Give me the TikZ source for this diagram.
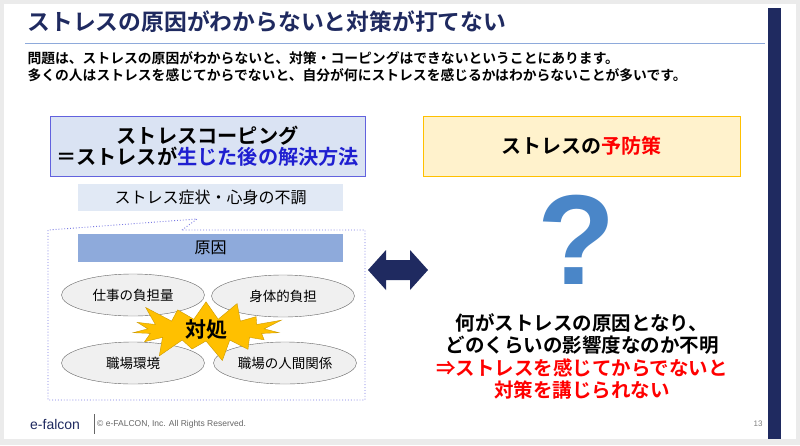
\documentclass[tikz,border=0pt]{standalone}
\usepackage{fontspec}
\setmainfont{Noto Sans CJK JP}
\newfontfamily\jpb{Noto Sans CJK JP Bold}
\newfontfamily\lat{Liberation Sans}
\usepackage{tikz}
\usetikzlibrary{positioning,shapes.geometric,shapes.symbols}
\definecolor{navy}{HTML}{1F2A60}
\definecolor{paleblue}{HTML}{DAE3F3}
\definecolor{midblue}{HTML}{8EAADB}
\definecolor{qblue}{HTML}{4A86C8}
\definecolor{gold}{HTML}{FFC000}
\definecolor{cream}{HTML}{FFF2CC}
\definecolor{deepblue}{HTML}{1F1FD0}
\begin{document}
\begin{tikzpicture}[x=1pt,y=-1pt,
	fs/.style={font=\fontsize{#1}{#1}\selectfont},
	headbox/.style = {draw=#1, line width=0.8pt, minimum height=60pt, align=center,
		inner sep=0pt},
	factor/.style = {ellipse, draw=black!60, fill=black!6, minimum width=143pt,
		minimum height=42pt, fs=13},
	]
	% slide
	\fill[black!8] (0,0) rectangle (800,445);
	\fill[white] (4,4) rectangle (796,439);
	\fill[navy] (768,8) rectangle (781,439);
	\node[anchor=west, text=navy, fs=22.8] (title) at (24,22) {\jpb ストレスの原因がわからないと対策が打てない};
	\draw[midblue, line width=0.8pt] (25,43) -- (765,43);
	\node[anchor=west, fs=13.8, align=left] (intro) at (24,67)
		{\jpb 問題は、ストレスの原因がわからないと、対策・コーピングはできないということにあります。\\[3pt]
		\jpb 多くの人はストレスを感じてからでないと、自分が何にストレスを感じるかはわからないことが多いです。};
	% left side
	\node[headbox=deepblue!70, fill=paleblue, minimum width=315pt, fs=20.2] (coping) at (207.5,146)
		{\jpb ストレスコーピング\\[1pt]\jpb ＝ストレスが\textcolor{deepblue}{生じた後の解決方法}};
	\node[fill=paleblue!80, minimum width=265pt, minimum height=27pt, fs=16] (symptom) at (210.5,197)
		{ストレス症状・心身の不調};
	\draw[deepblue!60, dotted, line width=0.9pt] (182,230) -- (197,219) -- (48,230)
		-- (48,400) -- (365,400) -- (365,230) -- cycle;
	\node[fill=midblue, minimum width=265pt, minimum height=28pt, fs=16] (cause) at (210.5,248) {原因};
	\node[factor] (work) at (133,295) {};
	\node[factor] (body) at (283,296) {};
	\node[factor] (place) at (133,363) {};
	\node[factor] (human) at (285,363) {};
	\node[starburst, starburst points=15, starburst point height=24pt, fill=gold,
		draw=gold!80!black, minimum width=165pt, minimum height=70pt, fs=20] (cope) at (206,330) {};
	\node[fs=13.5] at (work) {仕事の負担量};
	\node[fs=13.5] at (body) {身体的負担};
	\node[fs=13.5] at (place) {職場環境};
	\node[fs=13.5] at (human) {職場の人間関係};
	\node[fs=21] at (cope) {\jpb 対処};
	% arrow
	\coordinate (link) at (398,270);
	\fill[navy] ([xshift=-30pt]link) -- ++(18,-20) -- ++(0,10) -- ++(24,0) -- ++(0,-10)
		-- ++(18,20) -- ++(-18,20) -- ++(0,-10) -- ++(-24,0) -- ++(0,10) -- cycle;
	% right side
	\node[headbox=gold, fill=cream, minimum width=317pt, fs=20] (prevent) at (581.5,146)
		{\jpb ストレスの\textcolor{red}{予防策}};
	\node[text=qblue, fs=128, inner sep=0pt] (qmark) at (577,240) {\lat\bfseries ?};
	\node[fs=19.5, align=center] (unknown) at (582,334)
		{\jpb 何がストレスの原因となり、\\[3pt]\jpb どのくらいの影響度なのか不明};
	\node[fs=19.5, align=center, text=red, below=-3pt of unknown] (result)
		{\jpb ⇒ストレスを感じてからでないと\\[3pt]\jpb 対策を講じられない};
	% footer
	\node[anchor=west, text=navy, fs=14, inner sep=0pt] (brand) at (30,424) {\lat e-falcon};
	\draw[black!60] (94,414) -- (94,434);
	\node[anchor=west, text=black!60, fs=8.5, inner sep=0pt] (copy) at (97,424) {\lat © e-FALCON, Inc. All Rights Reserved.};
	\node[text=black!50, fs=8, inner sep=0pt] (page) at (758,424) {\lat 13};
\end{tikzpicture}
\end{document}
